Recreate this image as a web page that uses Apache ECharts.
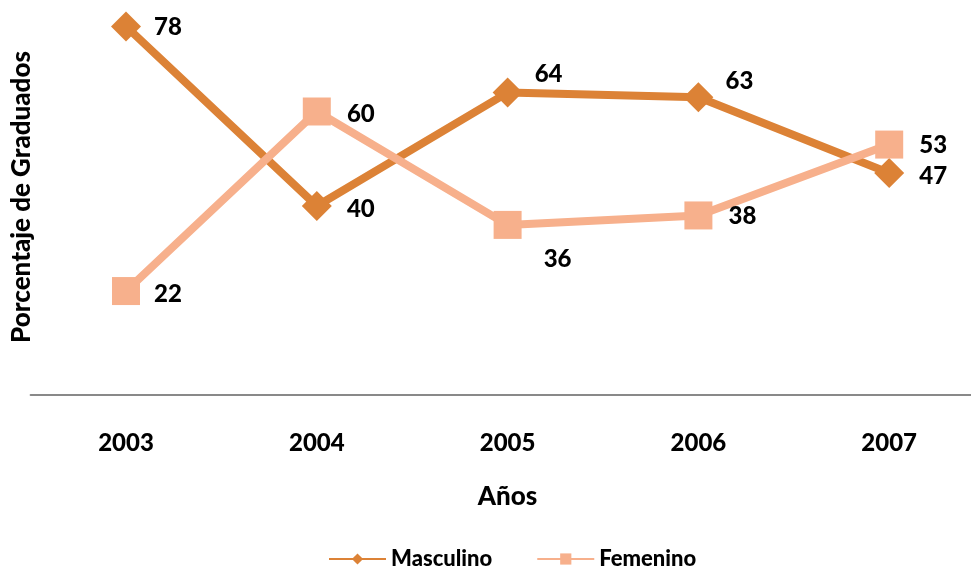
<!DOCTYPE html>
<html>
<head>
<meta charset="utf-8">
<script src="https://cdn.jsdelivr.net/npm/echarts@6/dist/echarts.min.js"></script>
<style>
  html, body { margin: 0; padding: 0; background: #fff; }
  #chart { width: 971px; height: 569px; }
</style>
</head>
<body>
<div id="chart"></div>
<script>
// datos
const years = ["2003", "2004", "2005", "2006", "2007"];
const masculino = [78, 40, 64, 63, 47];
const femenino = [22, 60, 36, 38, 53];

// desplazamiento de cada etiqueta respecto al punto
const mascOffsets = [[42, 1], [44, 3], [41, -18], [41, -16], [44, 3]];
const femOffsets = [[42, 3], [44, 3], [50, 34], [44, 1], [44, 1]];

const FONT = "Lato";
const WEIGHT = 900;
const MASC_COLOR = "#DC8236";
const FEM_COLOR = "#F7B08C";

function withLabels(values, offsets) {
  return values.map(function (v, i) {
    return { value: v, label: { offset: offsets[i] } };
  });
}

const labelStyle = {
  show: true,
  position: "inside",
  color: "#000",
  fontFamily: FONT,
  fontWeight: WEIGHT,
  fontSize: 24
};

const chart = echarts.init(document.getElementById("chart"));
chart.setOption({
  animation: false,
  grid: {
    left: 30.6, width: 954, top: 17, bottom: 174,
    containLabel: false, outerBoundsMode: "none"
  },
  legend: {
    top: 543,
    left: 323,
    itemWidth: 57,
    itemHeight: 14,
    itemGap: 44,
    textStyle: { fontFamily: FONT, fontWeight: WEIGHT, fontSize: 22, color: "#000" },
    data: ["Masculino", "Femenino"]
  },
  xAxis: {
    type: "category",
    data: years,
    boundaryGap: true,
    name: "Años",
    nameLocation: "middle",
    nameGap: 89,
    nameTextStyle: { fontFamily: FONT, fontWeight: WEIGHT, fontSize: 26, color: "#000" },
    axisLine: { lineStyle: { color: "#898989", width: 2 } },
    axisTick: { show: false },
    axisLabel: { margin: 36, fontFamily: FONT, fontWeight: WEIGHT, fontSize: 24, color: "#000" }
  },
  yAxis: {
    type: "value",
    min: 0,
    max: 80,
    name: "Porcentaje de Graduados",
    nameLocation: "middle",
    nameGap: -4,
    nameTextStyle: {
      fontFamily: FONT, fontWeight: WEIGHT, fontSize: 26, color: "#000",
      padding: [0, 0, 0, 18]
    },
    axisLine: { show: false },
    axisTick: { show: false },
    axisLabel: { show: false },
    splitLine: { show: false }
  },
  series: [
    {
      name: "Masculino",
      type: "line",
      data: withLabels(masculino, mascOffsets),
      symbol: "diamond",
      symbolSize: 30,
      showAllSymbol: true,
      color: MASC_COLOR,
      lineStyle: { color: MASC_COLOR, width: 8 },
      itemStyle: { color: MASC_COLOR },
      label: labelStyle,
      z: 2
    },
    {
      name: "Femenino",
      type: "line",
      data: withLabels(femenino, femOffsets),
      symbol: "rect",
      symbolSize: 28,
      showAllSymbol: true,
      color: FEM_COLOR,
      lineStyle: { color: FEM_COLOR, width: 8 },
      itemStyle: { color: FEM_COLOR },
      label: labelStyle,
      z: 3
    }
  ]
});
</script>
</body>
</html>
